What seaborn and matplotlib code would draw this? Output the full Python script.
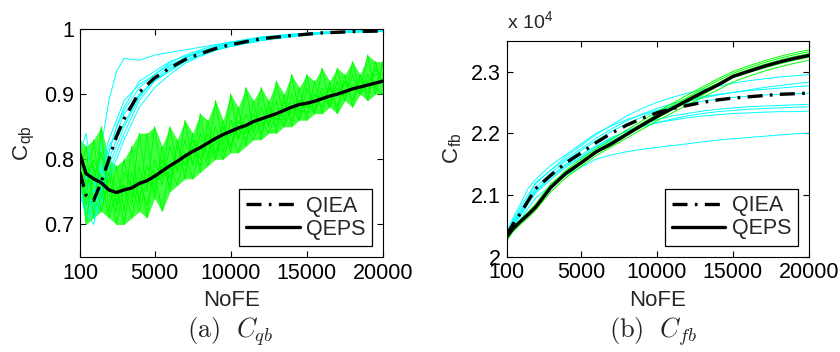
import numpy as np
import pandas as pd
import matplotlib
matplotlib.use('Agg')
import matplotlib.pyplot as plt
from matplotlib.ticker import FuncFormatter
import seaborn as sns

# ---- data ----
# panel (a): C_qb, fine NoFE grid for the noisy QEPS runs
nofe_fine = [100, 500, 1000, 1500, 2000, 2500, 3000, 3500, 4000, 4500,
             5000, 5500, 6000, 6500, 7000, 7500, 8000, 8500, 9000, 9500,
             10000, 10500, 11000, 11500, 12000, 12500, 13000, 13500, 14000, 14500,
             15000, 15500, 16000, 16500, 17000, 17500, 18000, 18500, 19000, 19500,
             20000]
qeps_a_mean = [.808, .778, .770, .764, .753, .749, .753, .756, .763, .767,
               .774, .782, .790, .797, .805, .812, .818, .825, .832, .838,
               .843, .848, .852, .858, .862, .866, .870, .875, .880, .884,
               .886, .889, .893, .897, .900, .904, .908, .911, .914, .917,
               .920]
qeps_a_runs = [
    [.83, .74, .83, .74, .80, .73, .80, .74, .84, .75, .85, .77, .85, .78, .86, .79, .87, .80, .89, .82,
     .90, .83, .91, .84, .91, .85, .92, .86, .93, .87, .93, .87, .94, .88, .94, .89, .95, .90, .96, .90, .95],
    [.78, .82, .71, .85, .72, .79, .72, .82, .73, .84, .74, .82, .75, .83, .77, .84, .78, .86, .80, .86,
     .81, .88, .82, .89, .83, .89, .84, .90, .85, .91, .86, .92, .87, .92, .87, .93, .88, .93, .89, .95, .91],
    [.80, .70, .79, .72, .77, .76, .70, .78, .74, .79, .76, .80, .77, .82, .79, .83, .80, .84, .81, .85,
     .82, .86, .84, .87, .84, .88, .85, .89, .86, .89, .87, .90, .88, .91, .88, .92, .89, .93, .90, .94, .92],
    [.76, .79, .74, .72, .78, .70, .76, .73, .79, .71, .80, .76, .82, .78, .83, .79, .84, .80, .85, .81,
     .86, .83, .87, .84, .88, .85, .89, .85, .90, .86, .91, .87, .91, .88, .92, .89, .93, .90, .92, .91, .95],
    [.82, .76, .80, .77, .71, .75, .76, .71, .77, .73, .78, .72, .79, .76, .81, .77, .82, .79, .83, .80,
     .84, .81, .85, .83, .86, .84, .87, .85, .88, .86, .89, .87, .90, .88, .91, .90, .91, .90, .93, .91, .90],
    [.79, .73, .77, .81, .75, .72, .78, .76, .72, .77, .75, .79, .76, .80, .78, .82, .79, .83, .80, .84,
     .82, .85, .83, .86, .85, .87, .86, .88, .87, .89, .88, .90, .89, .91, .90, .92, .91, .92, .92, .93, .93],
]

nofe_a = [100, 500, 1000, 1500, 2000, 2500, 3000, 4000, 5000, 6000,
          7000, 8000, 9000, 10000, 12000, 14000, 16000, 18000, 20000]
qiea_a_mean = [.780, .745, .737, .765, .800, .835, .862, .903, .925, .940,
               .953, .962, .970, .976, .985, .990, .994, .996, .997]
qiea_a_runs = [
    [.82, .76, .72, .74, .78, .81, .84, .89, .92, .935, .950, .960, .968, .975, .984, .990, .994, .996, .997],
    [.76, .72, .70, .75, .81, .85, .88, .92, .935, .950, .958, .966, .972, .978, .987, .992, .995, .997, .998],
    [.79, .78, .74, .79, .83, .86, .89, .915, .93, .945, .955, .965, .973, .979, .987, .991, .995, .997, .998],
    [.74, .73, .71, .73, .77, .80, .83, .88, .91, .93, .947, .958, .967, .973, .982, .988, .993, .995, .996],
    [.81, .84, .76, .78, .82, .84, .87, .90, .92, .94, .952, .963, .970, .977, .986, .991, .994, .996, .998],
    [.77, .74, .72, .76, .79, .82, .85, .895, .925, .943, .956, .965, .972, .978, .985, .990, .993, .996, .997],
    [.80, .77, .75, .77, .81, .85, .875, .91, .93, .948, .960, .968, .975, .980, .988, .992, .995, .997, .998],
    [.75, .71, .73, .75, .80, .83, .855, .898, .922, .938, .950, .960, .969, .974, .983, .989, .993, .995, .997],
    [.78, .74, .73, .82, .89, .935, .955, .952, .96, .964, .968, .972, .976, .980, .986, .990, .994, .996, .998],
]

# panel (b): C_fb (in units of 10^4)
nofe_b = [100, 500, 1000, 1500, 2000, 3000, 4000, 5000, 6000, 7000, 8000, 9000,
          10000, 11000, 12000, 13000, 14000, 15000, 16000, 17000, 18000, 19000, 20000]
qeps_b_mean = [2.032, 2.045, 2.057, 2.068, 2.080, 2.112, 2.135, 2.152, 2.170, 2.183, 2.198, 2.213,
               2.227, 2.240, 2.253, 2.266, 2.278, 2.292, 2.300, 2.308, 2.315, 2.321, 2.326]
qiea_b_mean = [2.035, 2.052, 2.070, 2.090, 2.110, 2.132, 2.152, 2.168, 2.185, 2.200, 2.213, 2.224,
               2.233, 2.240, 2.245, 2.250, 2.254, 2.257, 2.259, 2.261, 2.263, 2.264, 2.265]
qiea_b_runs = [
    [2.035, 2.055, 2.075, 2.095, 2.120, 2.140, 2.162, 2.180, 2.198, 2.213, 2.228, 2.240,
     2.250, 2.258, 2.265, 2.271, 2.276, 2.281, 2.285, 2.288, 2.291, 2.293, 2.295],
    [2.030, 2.050, 2.068, 2.088, 2.105, 2.128, 2.148, 2.162, 2.178, 2.192, 2.204, 2.214,
     2.222, 2.228, 2.232, 2.236, 2.239, 2.241, 2.243, 2.244, 2.245, 2.246, 2.247],
    [2.038, 2.058, 2.080, 2.100, 2.118, 2.140, 2.158, 2.175, 2.192, 2.207, 2.220, 2.231,
     2.240, 2.248, 2.254, 2.259, 2.263, 2.266, 2.269, 2.271, 2.273, 2.275, 2.277],
    [2.032, 2.048, 2.066, 2.085, 2.103, 2.125, 2.145, 2.160, 2.175, 2.188, 2.200, 2.210,
     2.217, 2.223, 2.228, 2.232, 2.235, 2.237, 2.239, 2.240, 2.241, 2.242, 2.243],
    [2.040, 2.062, 2.085, 2.110, 2.125, 2.148, 2.165, 2.183, 2.200, 2.212, 2.222, 2.230,
     2.237, 2.243, 2.248, 2.252, 2.255, 2.258, 2.260, 2.262, 2.263, 2.264, 2.265],
    [2.034, 2.053, 2.072, 2.092, 2.112, 2.135, 2.155, 2.172, 2.188, 2.203, 2.215, 2.226,
     2.236, 2.244, 2.251, 2.257, 2.262, 2.266, 2.270, 2.274, 2.277, 2.280, 2.283],
    [2.030, 2.045, 2.060, 2.078, 2.095, 2.115, 2.132, 2.145, 2.158, 2.165, 2.170, 2.174,
     2.177, 2.180, 2.183, 2.186, 2.189, 2.191, 2.193, 2.195, 2.197, 2.199, 2.200],
    [2.033, 2.050, 2.070, 2.090, 2.108, 2.130, 2.150, 2.165, 2.180, 2.193, 2.203, 2.211,
     2.217, 2.221, 2.225, 2.228, 2.230, 2.232, 2.233, 2.234, 2.235, 2.235, 2.236],
]
qeps_b_runs = [
    [2.030, 2.043, 2.055, 2.068, 2.082, 2.115, 2.140, 2.158, 2.175, 2.190, 2.205, 2.220,
     2.235, 2.248, 2.262, 2.275, 2.288, 2.300, 2.309, 2.317, 2.324, 2.330, 2.335],
    [2.025, 2.040, 2.052, 2.063, 2.075, 2.105, 2.128, 2.146, 2.164, 2.178, 2.192, 2.206,
     2.220, 2.233, 2.246, 2.258, 2.270, 2.283, 2.292, 2.300, 2.307, 2.313, 2.318],
    [2.035, 2.048, 2.060, 2.072, 2.085, 2.118, 2.138, 2.155, 2.172, 2.186, 2.200, 2.215,
     2.229, 2.242, 2.256, 2.269, 2.281, 2.294, 2.303, 2.311, 2.318, 2.324, 2.329],
    [2.028, 2.042, 2.056, 2.066, 2.078, 2.110, 2.132, 2.150, 2.168, 2.180, 2.196, 2.210,
     2.224, 2.238, 2.250, 2.262, 2.276, 2.290, 2.298, 2.305, 2.312, 2.318, 2.323],
    [2.033, 2.047, 2.058, 2.070, 2.083, 2.113, 2.137, 2.154, 2.171, 2.185, 2.201, 2.216,
     2.231, 2.245, 2.258, 2.272, 2.285, 2.297, 2.306, 2.314, 2.321, 2.327, 2.332],
]

nofe_ticks = [100, 5000, 10000, 15000, 20000]
CYAN = '#00ffff'
GREEN = '#00ff00'
DASHDOT = (0, (4.5, 2.2, 0.8, 2.2))


def runs_frame(x, runs, scale=1.0):
    rows = []
    for i, r in enumerate(runs):
        rows.append(pd.DataFrame({'NoFE': x, 'val': np.array(r) * scale, 'run': i}))
    return pd.concat(rows, ignore_index=True)


sns.set_style('ticks')
plt.rcParams['font.family'] = ['Liberation Sans', 'DejaVu Sans']
plt.rcParams['mathtext.fontset'] = 'cm'

fig = plt.figure(figsize=(8.4, 3.52), dpi=100)
ax1 = fig.add_axes([0.0952, 0.2699, 0.3607, 0.6477])
ax2 = fig.add_axes([0.6032, 0.2708, 0.3595, 0.6136])

# ---- (a) ----
sns.lineplot(data=runs_frame(nofe_a, qiea_a_runs), x='NoFE', y='val', units='run',
             estimator=None, color=CYAN, lw=0.7, legend=False, ax=ax1)
green_runs = np.array(qeps_a_runs)
ax1.fill_between(nofe_fine, green_runs.min(axis=0), green_runs.max(axis=0),
                 color=GREEN, lw=0, alpha=0.75)
sns.lineplot(data=runs_frame(nofe_fine, qeps_a_runs), x='NoFE', y='val', units='run',
             estimator=None, color=GREEN, lw=0.7, legend=False, ax=ax1)
sns.lineplot(x=nofe_a, y=qiea_a_mean, color='black', lw=2.4,
             linestyle=DASHDOT, label='QIEA', ax=ax1)
sns.lineplot(x=nofe_fine, y=qeps_a_mean, color='black', lw=2.4, label='QEPS', ax=ax1)
ax1.set_ylim(0.65, 1.0)
ax1.set_yticks([0.7, 0.8, 0.9, 1.0])
ax1.yaxis.set_major_formatter(FuncFormatter(lambda v, p: '%g' % v))
ax1.set_ylabel(r'C$_{\mathregular{qb}}$', fontsize=16, labelpad=5)

# ---- (b) ----
sns.lineplot(data=runs_frame(nofe_b, qiea_b_runs, 1e4), x='NoFE', y='val', units='run',
             estimator=None, color=CYAN, lw=0.7, legend=False, ax=ax2)
sns.lineplot(data=runs_frame(nofe_b, qeps_b_runs, 1e4), x='NoFE', y='val', units='run',
             estimator=None, color=GREEN, lw=0.7, legend=False, ax=ax2)
sns.lineplot(x=nofe_b, y=np.array(qiea_b_mean) * 1e4, color='black', lw=2.4,
             linestyle=DASHDOT, label='QIEA', ax=ax2)
sns.lineplot(x=nofe_b, y=np.array(qeps_b_mean) * 1e4, color='black', lw=2.4, label='QEPS', ax=ax2)
ax2.set_ylim(20000, 23500)
ax2.set_yticks([20000, 21000, 22000, 23000])
ax2.yaxis.set_major_formatter(FuncFormatter(lambda v, p: '%g' % (v / 1e4)))
ax2.set_ylabel(r'C$_{\mathregular{fb}}$', fontsize=16, labelpad=5)
ax2.text(0.0, 1.035, r'x 10$^{\mathregular{4}}$', transform=ax2.transAxes,
         fontsize=14, va='bottom', ha='left')

for ax in (ax1, ax2):
    ax.set_xlim(100, 20000)
    ax.set_xticks(nofe_ticks)
    ax.set_xlabel('NoFE', fontsize=16, labelpad=5)
    ax.tick_params(direction='in', top=True, right=True, length=4, width=0.8,
                   labelsize=15.5, colors='black', pad=4)
    for s in ax.spines.values():
        s.set_color('black')
        s.set_linewidth(0.8)
    leg = ax.legend(loc='lower right', fontsize=15.5, frameon=True, fancybox=False,
                    handlelength=2.5, handletextpad=0.3, borderaxespad=0.5,
                    borderpad=0.3, labelspacing=0.1)
    leg.get_frame().set_edgecolor('black')
    leg.get_frame().set_linewidth(0.9)
    leg.get_frame().set_alpha(1)

fig.text(0.274, 0.058, r'$\mathrm{(a)}\ \ C_{qb}$', fontsize=19, ha='center', va='center')
fig.text(0.777, 0.058, r'$\mathrm{(b)}\ \ C_{fb}$', fontsize=19, ha='center', va='center')

fig.savefig('out.png', dpi=100)
